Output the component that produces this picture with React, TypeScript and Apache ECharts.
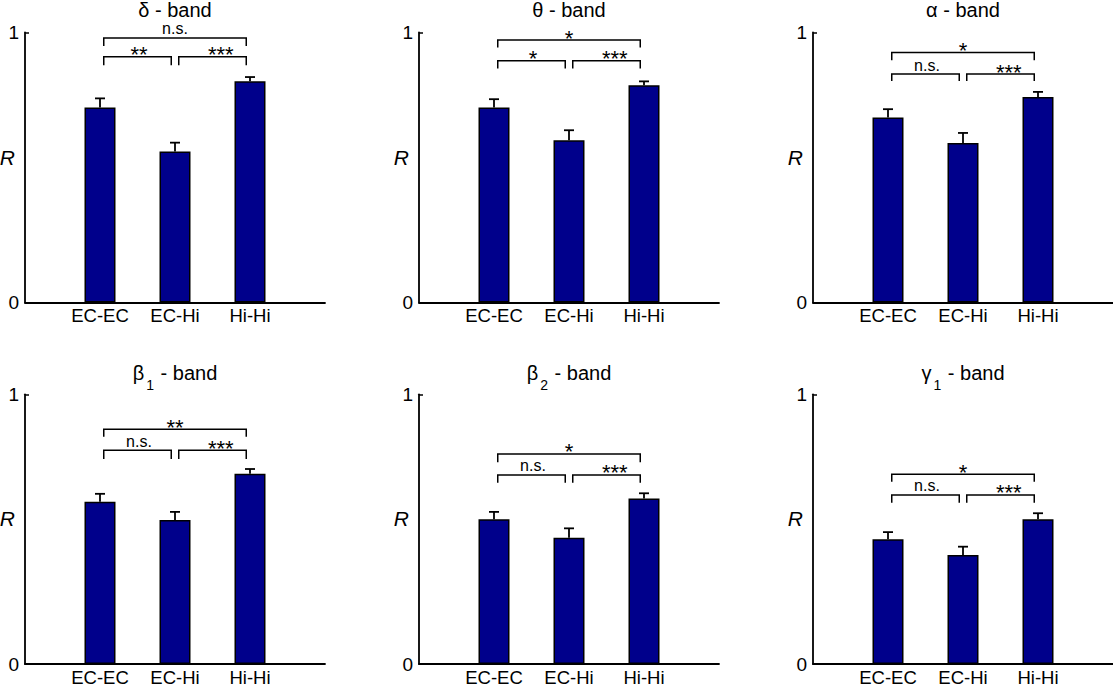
import React, { useEffect, useRef } from "react";
import * as echarts from "echarts";

// ---------- data ----------
const categories = ["EC-EC", "EC-Hi", "Hi-Hi"];
const bandSymbols = ["δ", "θ", "α", "β", "β", "γ"];
const bandSubscripts = ["", "", "", "1", "2", "1"];

const deltaMean = [0.722, 0.559, 0.819];
const deltaErr = [0.034, 0.033, 0.016];
const thetaMean = [0.722, 0.601, 0.805];
const thetaErr = [0.031, 0.037, 0.014];
const alphaMean = [0.685, 0.591, 0.761];
const alphaErr = [0.031, 0.037, 0.019];
const beta1Mean = [0.602, 0.534, 0.705];
const beta1Err = [0.029, 0.03, 0.018];
const beta2Mean = [0.537, 0.468, 0.614];
const beta2Err = [0.027, 0.035, 0.019];
const gamma1Mean = [0.463, 0.404, 0.537];
const gamma1Err = [0.026, 0.031, 0.022];

// significance brackets: [upper (EC-EC vs Hi-Hi), lower-left (EC-EC vs EC-Hi), lower-right (EC-Hi vs Hi-Hi)]
// each bracket level: [line value, tick-end value]
const deltaBrackets = [[0.98, 0.95], [0.91, 0.879], [0.91, 0.879]];
const thetaBrackets = [[0.972, 0.944], [0.895, 0.867], [0.895, 0.867]];
const alphaBrackets = [[0.926, 0.897], [0.846, 0.82], [0.846, 0.82]];
const beta1Brackets = [[0.87, 0.843], [0.793, 0.76], [0.793, 0.76]];
const beta2Brackets = [[0.779, 0.748], [0.701, 0.672], [0.701, 0.672]];
const gamma1Brackets = [[0.704, 0.676], [0.627, 0.598], [0.627, 0.598]];

const deltaSig = ["n.s.", "**", "***"];
const thetaSig = ["*", "*", "***"];
const alphaSig = ["*", "n.s.", "***"];
const beta1Sig = ["**", "n.s.", "***"];
const beta2Sig = ["*", "n.s.", "***"];
const gamma1Sig = ["*", "n.s.", "***"];

const bracketSpans = [[1.05, 2.95], [1.05, 1.95], [2.05, 2.95]];
const bracketLabelX = [2.0, 1.52, 2.61];

const yTicks = [0, 1];

// ---------- layout / style ----------
const FONT = "Liberation Sans, Arial, Helvetica, sans-serif";
const BAR_COLOR = "#00008B";
const gridLefts = [25, 419, 813];
const gridTops = [32.5, 394.3];
const gridWidth = 300;
const gridHeights = [270, 269.7];
const titleTops = [0, 363];

const means = [deltaMean, thetaMean, alphaMean, beta1Mean, beta2Mean, gamma1Mean];
const errs = [deltaErr, thetaErr, alphaErr, beta1Err, beta2Err, gamma1Err];
const brackets = [deltaBrackets, thetaBrackets, alphaBrackets, beta1Brackets, beta2Brackets, gamma1Brackets];
const sigs = [deltaSig, thetaSig, alphaSig, beta1Sig, beta2Sig, gamma1Sig];

function buildOption(): any {
  const grids: any[] = [];
  const xAxes: any[] = [];
  const yAxes: any[] = [];
  const series: any[] = [];
  const titles: any[] = [];

  for (let i = 0; i < 6; i++) {
    const row = Math.floor(i / 3);
    const col = i % 3;
    grids.push({
      left: gridLefts[col],
      top: gridTops[row],
      width: gridWidth,
      height: gridHeights[row],
      containLabel: false,
      outerBoundsMode: "none",
    });
    xAxes.push({
      type: "value",
      gridIndex: i,
      min: 0,
      max: 4,
      interval: 1,
      axisLine: { show: true, lineStyle: { color: "#000", width: 1.8 } },
      axisTick: { show: false },
      splitLine: { show: false },
      axisLabel: {
        show: true,
        margin: 5,
        color: "#000",
        fontFamily: FONT,
        fontSize: 18.5,
        lineHeight: 16,
        formatter: (v: number) => categories[v - 1] ?? "",
      },
    });
    yAxes.push({
      type: "value",
      gridIndex: i,
      min: yTicks[0],
      max: yTicks[yTicks.length - 1],
      interval: 1,
      name: "R",
      nameLocation: "middle",
      nameRotate: 0,
      nameGap: 10,
      nameMoveOverlap: false,
      nameTextStyle: {
        fontFamily: FONT,
        fontStyle: "italic",
        fontSize: 21,
        lineHeight: 21,
        color: "#000",
        verticalAlign: "bottom",
      },
      axisLine: { show: true, lineStyle: { color: "#000", width: 1.8 } },
      axisTick: { show: true, inside: true, length: 4, lineStyle: { color: "#000", width: 1.5 } },
      splitLine: { show: false },
      axisLabel: {
        margin: 6,
        color: "#000",
        fontFamily: FONT,
        fontSize: 19,
        formatter: (v: number) => String(v),
      },
    });

    const sub = bandSubscripts[i];
    const sym = bandSymbols[i];
    titles.push({
      text: sub ? `{m|${sym}}{s|${sub}}{m| - band}` : `{m|${sym} - band}`,
      left: gridLefts[col] + gridWidth / 2,
      top: titleTops[row],
      textAlign: "center",
      padding: 0,
      textStyle: {
        fontFamily: FONT,
        fontWeight: "normal",
        color: "#000",
        rich: {
          m: { fontFamily: FONT, fontSize: 20, lineHeight: 20, color: "#000", verticalAlign: "top" },
          s: {
            fontFamily: FONT,
            fontSize: 14,
            lineHeight: 14,
            color: "#000",
            verticalAlign: "top",
            padding: [15, 1, 0, 2],
          },
        },
      },
    });

    const mean = means[i];
    const err = errs[i];
    series.push({
      type: "bar",
      xAxisIndex: i,
      yAxisIndex: i,
      barWidth: 31,
      silent: true,
      itemStyle: { color: BAR_COLOR, borderColor: "#000", borderWidth: 1.5 },
      data: mean.map((m, j) => [j + 1, m]),
      z: 2,
    });
    series.push({
      type: "custom",
      xAxisIndex: i,
      yAxisIndex: i,
      silent: true,
      z: 3,
      data: mean.map((m, j) => [j + 1, m, err[j]]),
      renderItem: (_p: any, api: any) => {
        const x = api.value(0);
        const m = api.value(1);
        const e = api.value(2);
        const p0 = api.coord([x, m]);
        const p1 = api.coord([x, m + e]);
        const st = { stroke: "#000", lineWidth: 1.8 };
        return {
          type: "group",
          children: [
            { type: "line", shape: { x1: p0[0], y1: p0[1], x2: p1[0], y2: p1[1] }, style: st },
            { type: "line", shape: { x1: p1[0] - 5, y1: p1[1], x2: p1[0] + 5, y2: p1[1] }, style: st },
          ],
        };
      },
    });

    const br = brackets[i];
    const sg = sigs[i];
    series.push({
      type: "custom",
      xAxisIndex: i,
      yAxisIndex: i,
      silent: true,
      z: 4,
      data: br.map((b, k) => [bracketSpans[k][0], bracketSpans[k][1], b[0], b[1], bracketLabelX[k]]),
      renderItem: (params: any, api: any) => {
        const x1 = api.value(0);
        const x2 = api.value(1);
        const yl = api.value(2);
        const yt = api.value(3);
        const lx = api.value(4);
        const a = api.coord([x1, yt]);
        const b = api.coord([x1, yl]);
        const c = api.coord([x2, yl]);
        const d = api.coord([x2, yt]);
        const lp = api.coord([lx, yl]);
        const label = sg[params.dataIndex];
        const isStar = label.charAt(0) === "*";
        return {
          type: "group",
          children: [
            {
              type: "polyline",
              shape: { points: [a, b, c, d] },
              style: { stroke: "#000", lineWidth: 1.5, fill: "none" },
            },
            {
              type: "text",
              style: {
                text: label,
                x: lp[0],
                y: isStar ? lp[1] - 2 : lp[1] - 9,
                textAlign: "center",
                textVerticalAlign: "middle",
                fontFamily: FONT,
                fontSize: isStar ? 22 : 16,
                lineHeight: isStar ? 10 : 13,
                fill: "#000",
              },
            },
          ],
        };
      },
    });
  }

  return {
    animation: false,
    backgroundColor: "#fff",
    title: titles,
    grid: grids,
    xAxis: xAxes,
    yAxis: yAxes,
    series,
  };
}

export default function App() {
  const ref = useRef<HTMLDivElement>(null);
  useEffect(() => {
    document.body.style.margin = "0";
    if (!ref.current) return;
    const chart = echarts.init(ref.current, undefined, { renderer: "svg" });
    chart.setOption(buildOption());
    return () => chart.dispose();
  }, []);
  return (
    <div
      ref={ref}
      style={{ position: "absolute", left: 0, top: 0, width: 1113, height: 687, background: "#fff" }}
    />
  );
}
